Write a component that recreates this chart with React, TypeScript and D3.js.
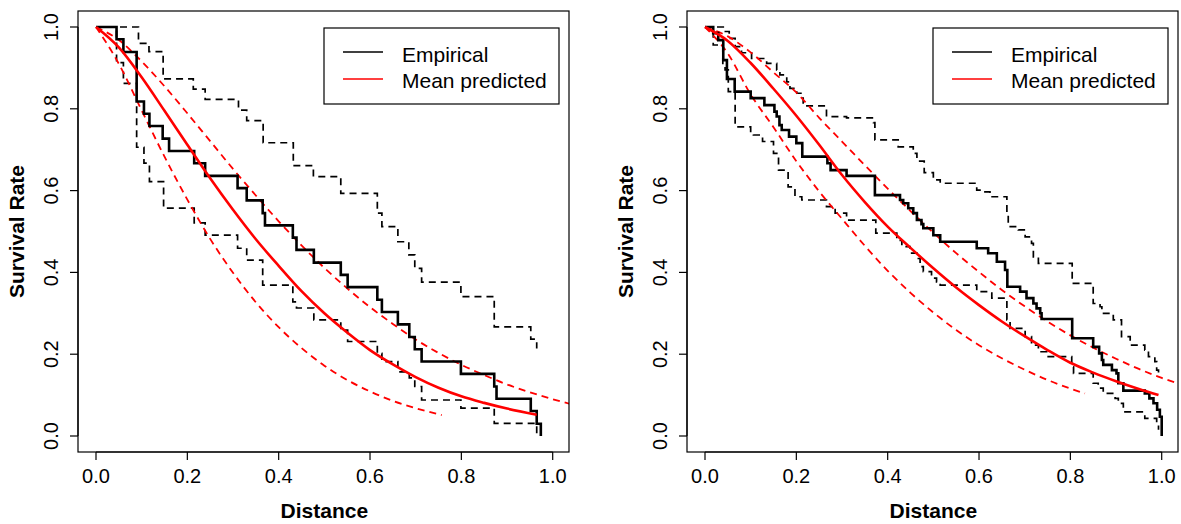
import React from "react";
import * as d3 from "d3";

// ---- left panel: empirical survival (step) and its band ----
const leftEmpT = [0, 0.045, 0.06, 0.089, 0.105, 0.117, 0.146, 0.16, 0.215, 0.239, 0.31, 0.33, 0.365, 0.37, 0.431, 0.439, 0.477, 0.536, 0.551, 0.616, 0.626, 0.661, 0.686, 0.698, 0.713, 0.799, 0.872, 0.877, 0.952, 0.965, 0.974];
const leftEmpS = [1, 0.97, 0.939, 0.818, 0.788, 0.758, 0.727, 0.697, 0.667, 0.636, 0.606, 0.576, 0.545, 0.515, 0.485, 0.455, 0.424, 0.394, 0.364, 0.333, 0.303, 0.273, 0.242, 0.212, 0.182, 0.152, 0.121, 0.091, 0.061, 0.03, 0];
const leftUpT = [0, 0.093, 0.116, 0.147, 0.213, 0.239, 0.312, 0.33, 0.366, 0.432, 0.476, 0.536, 0.616, 0.626, 0.661, 0.685, 0.698, 0.713, 0.799, 0.872, 0.952, 0.965];
const leftUpS = [1, 0.96, 0.94, 0.873, 0.848, 0.823, 0.797, 0.771, 0.717, 0.661, 0.634, 0.593, 0.545, 0.512, 0.475, 0.443, 0.41, 0.376, 0.341, 0.267, 0.237, 0.214];
const leftLoT = [0, 0.045, 0.06, 0.089, 0.105, 0.117, 0.148, 0.215, 0.239, 0.31, 0.33, 0.365, 0.431, 0.439, 0.477, 0.536, 0.551, 0.616, 0.626, 0.661, 0.686, 0.698, 0.713, 0.799, 0.872, 0.965];
const leftLoS = [1, 0.913, 0.862, 0.706, 0.667, 0.622, 0.557, 0.521, 0.491, 0.459, 0.43, 0.369, 0.328, 0.313, 0.284, 0.259, 0.231, 0.202, 0.182, 0.157, 0.142, 0.121, 0.088, 0.068, 0.031, 0.002];

// left panel: predicted curves
const leftMeanX = [0, 0.05, 0.1, 0.15, 0.2, 0.25, 0.3, 0.35, 0.4, 0.45, 0.5, 0.55, 0.6, 0.65, 0.7, 0.75, 0.8, 0.85, 0.9, 0.965];
const leftMeanY = [1, 0.95, 0.877, 0.795, 0.712, 0.63, 0.553, 0.481, 0.416, 0.354, 0.3, 0.253, 0.21, 0.175, 0.144, 0.118, 0.097, 0.081, 0.067, 0.052];
const leftHiX = [0, 0.05, 0.1, 0.15, 0.2, 0.25, 0.3, 0.35, 0.4, 0.45, 0.5, 0.55, 0.6, 0.65, 0.7, 0.75, 0.8, 0.85, 0.9, 0.95, 1.0, 1.04];
const leftHiY = [1, 0.968, 0.916, 0.855, 0.789, 0.721, 0.653, 0.588, 0.525, 0.466, 0.411, 0.361, 0.315, 0.274, 0.236, 0.203, 0.174, 0.149, 0.126, 0.107, 0.09, 0.078];
const leftLowX = [0, 0.05, 0.1, 0.15, 0.2, 0.25, 0.3, 0.35, 0.4, 0.45, 0.5, 0.55, 0.6, 0.65, 0.7, 0.757];
const leftLowY = [1, 0.91, 0.796, 0.683, 0.578, 0.482, 0.399, 0.327, 0.266, 0.215, 0.172, 0.137, 0.109, 0.086, 0.068, 0.051];

// ---- right panel ----
const rightEmpT = [0, 0.018, 0.029, 0.04, 0.048, 0.065, 0.1, 0.13, 0.152, 0.157, 0.163, 0.168, 0.184, 0.2, 0.213, 0.268, 0.275, 0.31, 0.372, 0.427, 0.434, 0.445, 0.456, 0.464, 0.474, 0.478, 0.5, 0.515, 0.595, 0.62, 0.639, 0.657, 0.662, 0.69, 0.704, 0.719, 0.726, 0.734, 0.737, 0.804, 0.85, 0.863, 0.869, 0.872, 0.891, 0.901, 0.905, 0.916, 0.963, 0.973, 0.982, 0.99, 0.996, 1.0];
const rightEmpS = [1, 0.985, 0.968, 0.919, 0.873, 0.842, 0.826, 0.809, 0.793, 0.781, 0.76, 0.748, 0.732, 0.716, 0.683, 0.667, 0.65, 0.636, 0.589, 0.577, 0.569, 0.557, 0.545, 0.528, 0.518, 0.508, 0.491, 0.475, 0.459, 0.447, 0.426, 0.406, 0.365, 0.353, 0.337, 0.324, 0.312, 0.3, 0.286, 0.239, 0.218, 0.202, 0.186, 0.174, 0.161, 0.153, 0.129, 0.111, 0.104, 0.092, 0.08, 0.064, 0.047, 0];
const rightUpT = [0, 0.04, 0.053, 0.066, 0.08, 0.102, 0.135, 0.157, 0.164, 0.179, 0.186, 0.201, 0.212, 0.215, 0.266, 0.31, 0.369, 0.372, 0.423, 0.456, 0.464, 0.48, 0.5, 0.515, 0.595, 0.613, 0.624, 0.661, 0.664, 0.686, 0.701, 0.715, 0.719, 0.73, 0.804, 0.85, 0.865, 0.869, 0.894, 0.912, 0.931, 0.963, 0.971, 0.985, 0.989, 0.993];
const rightUpS = [1, 0.989, 0.972, 0.952, 0.937, 0.923, 0.911, 0.895, 0.883, 0.866, 0.85, 0.838, 0.826, 0.807, 0.781, 0.778, 0.766, 0.724, 0.707, 0.691, 0.672, 0.644, 0.626, 0.618, 0.601, 0.597, 0.585, 0.545, 0.512, 0.504, 0.487, 0.471, 0.438, 0.422, 0.373, 0.324, 0.316, 0.3, 0.284, 0.243, 0.222, 0.21, 0.194, 0.182, 0.161, 0.145];
const rightLoT = [0, 0.018, 0.039, 0.044, 0.051, 0.066, 0.1, 0.106, 0.126, 0.15, 0.161, 0.182, 0.197, 0.212, 0.266, 0.285, 0.31, 0.374, 0.42, 0.431, 0.449, 0.464, 0.471, 0.478, 0.496, 0.507, 0.515, 0.595, 0.628, 0.661, 0.668, 0.701, 0.715, 0.73, 0.748, 0.803, 0.807, 0.85, 0.861, 0.872, 0.898, 0.905, 0.916, 0.963, 0.989, 0.993];
const rightLoS = [1, 0.956, 0.903, 0.895, 0.842, 0.756, 0.74, 0.736, 0.72, 0.691, 0.65, 0.609, 0.585, 0.577, 0.561, 0.545, 0.528, 0.496, 0.478, 0.463, 0.447, 0.434, 0.414, 0.402, 0.386, 0.377, 0.369, 0.353, 0.337, 0.284, 0.263, 0.243, 0.222, 0.206, 0.194, 0.169, 0.153, 0.129, 0.117, 0.104, 0.092, 0.08, 0.059, 0.043, 0.033, 0.015];

const rightMeanX = [0, 0.05, 0.1, 0.15, 0.2, 0.25, 0.3, 0.35, 0.4, 0.45, 0.5, 0.55, 0.6, 0.65, 0.7, 0.75, 0.8, 0.85, 0.9, 0.95, 0.993];
const rightMeanY = [1, 0.966, 0.912, 0.849, 0.783, 0.712, 0.638, 0.572, 0.512, 0.46, 0.41, 0.363, 0.32, 0.28, 0.244, 0.21, 0.179, 0.155, 0.134, 0.115, 0.1];
const rightHiX = [0, 0.05, 0.1, 0.15, 0.2, 0.25, 0.3, 0.35, 0.4, 0.45, 0.5, 0.55, 0.6, 0.65, 0.7, 0.75, 0.8, 0.85, 0.9, 0.95, 1.0, 1.04];
const rightHiY = [1, 0.977, 0.938, 0.889, 0.84, 0.778, 0.72, 0.662, 0.605, 0.55, 0.497, 0.447, 0.401, 0.357, 0.317, 0.28, 0.246, 0.216, 0.189, 0.164, 0.142, 0.127];
const rightLowX = [0, 0.05, 0.1, 0.15, 0.2, 0.25, 0.3, 0.35, 0.4, 0.45, 0.5, 0.55, 0.6, 0.65, 0.7, 0.75, 0.8, 0.832];
const rightLowY = [1, 0.935, 0.835, 0.755, 0.672, 0.598, 0.531, 0.465, 0.404, 0.35, 0.302, 0.259, 0.222, 0.19, 0.162, 0.137, 0.116, 0.104];

const ticks = [0, 0.2, 0.4, 0.6, 0.8, 1.0];
const legendLabels = ["Empirical", "Mean predicted"];
const legendColors = ["#000", "#ff0000"];

const FONT = "'Liberation Sans', Arial, Helvetica, sans-serif";
const W = 1181;
const H = 524;
const PANEL_SHIFT = 609;
// plot box (left panel coordinates)
const box = { left: 78, right: 569, top: 11, bottom: 452 };

const zip = (a, b) => a.map((v, i) => [v, b[i]]);

const Panel = ({ id, shift, emp, up, lo, mean, hi, low }) => {
  const x = d3.scaleLinear().domain([0, 1]).range([96, 552.7]);
  const y = d3.scaleLinear().domain([0, 1]).range([436, 27]);

  const step = d3.line().x((d) => x(d[0])).y((d) => y(d[1])).curve(d3.curveStepAfter);
  const smooth = d3.line().x((d) => x(d[0])).y((d) => y(d[1])).curve(d3.curveMonotoneX);

  return (
    <g transform={`translate(${shift},0)`}>
      <defs>
        <clipPath id={id}>
          <rect x={box.left} y={box.top} width={box.right - box.left} height={box.bottom - box.top} />
        </clipPath>
      </defs>

      <g clipPath={`url(#${id})`} fill="none">
        {/* confidence band of empirical estimate */}
        <path d={step(up)} stroke="#000" strokeWidth={1.7} strokeDasharray="7,5" />
        <path d={step(lo)} stroke="#000" strokeWidth={1.7} strokeDasharray="7,5" />
        {/* predicted band */}
        <path d={smooth(hi)} stroke="#ff0000" strokeWidth={1.8} strokeDasharray="7,5" />
        <path d={smooth(low)} stroke="#ff0000" strokeWidth={1.8} strokeDasharray="7,5" />
        <path d={step(emp)} stroke="#000" strokeWidth={2.6} />
        <path d={smooth(mean)} stroke="#ff0000" strokeWidth={2.6} />
      </g>

      {/* frame */}
      <rect x={box.left} y={box.top} width={box.right - box.left} height={box.bottom - box.top}
        fill="none" stroke="#000" strokeWidth={1.2} />

      {/* x axis */}
      <line x1={x(0)} x2={x(1)} y1={box.bottom} y2={box.bottom} stroke="#000" strokeWidth={1.2} />
      {ticks.map((t) => (
        <g key={"x" + t}>
          <line x1={x(t)} x2={x(t)} y1={box.bottom} y2={box.bottom + 8} stroke="#000" strokeWidth={1.2} />
          <text x={x(t)} y={483} textAnchor="middle" fontSize={20} fontFamily={FONT}>{t.toFixed(1)}</text>
        </g>
      ))}
      <text x={(x(0) + x(1)) / 2} y={518} textAnchor="middle" fontSize={21} fontWeight="bold" fontFamily={FONT}>Distance</text>

      {/* y axis */}
      <line x1={box.left} x2={box.left} y1={y(0)} y2={y(1)} stroke="#000" strokeWidth={1.2} />
      {ticks.map((t) => (
        <g key={"y" + t}>
          <line x1={box.left - 8} x2={box.left} y1={y(t)} y2={y(t)} stroke="#000" strokeWidth={1.2} />
          <text transform={`translate(58,${y(t)}) rotate(-90)`} textAnchor="middle" fontSize={20} fontFamily={FONT}>{t.toFixed(1)}</text>
        </g>
      ))}
      <text transform={`translate(23.5,${(box.top + box.bottom) / 2}) rotate(-90)`} textAnchor="middle"
        fontSize={21} fontWeight="bold" fontFamily={FONT}>Survival Rate</text>

      {/* legend */}
      <rect x={324} y={28} width={235} height={76} fill="#fff" stroke="#000" strokeWidth={1.2} />
      {legendLabels.map((lab, i) => (
        <g key={lab}>
          <line x1={343} x2={383} y1={52 + i * 27} y2={52 + i * 27} stroke={legendColors[i]} strokeWidth={1.4} />
          <text x={402} y={61.5 + i * 26} fontSize={21} fontFamily={FONT}>{lab}</text>
        </g>
      ))}
    </g>
  );
};

export default function App() {
  return (
    <svg width={W} height={H} style={{ position: "absolute", left: 0, top: 0, background: "#fff" }}>
      <rect width={W} height={H} fill="#fff" />
      <Panel
        id="clipL"
        shift={0}
        emp={zip(leftEmpT, leftEmpS)}
        up={zip(leftUpT, leftUpS)}
        lo={zip(leftLoT, leftLoS)}
        mean={zip(leftMeanX, leftMeanY)}
        hi={zip(leftHiX, leftHiY)}
        low={zip(leftLowX, leftLowY)}
      />
      <Panel
        id="clipR"
        shift={PANEL_SHIFT}
        emp={zip(rightEmpT, rightEmpS)}
        up={zip(rightUpT, rightUpS)}
        lo={zip(rightLoT, rightLoS)}
        mean={zip(rightMeanX, rightMeanY)}
        hi={zip(rightHiX, rightHiY)}
        low={zip(rightLowX, rightLowY)}
      />
    </svg>
  );
}
